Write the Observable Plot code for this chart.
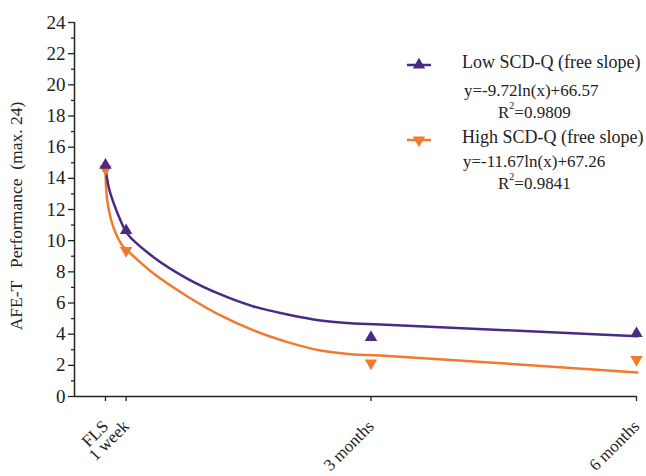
<!DOCTYPE html>
<html>
<head>
<meta charset="utf-8">
<script src="https://cdn.jsdelivr.net/npm/d3@7"></script>
<script src="https://cdn.jsdelivr.net/npm/@observablehq/plot@0.6"></script>
<style>
  html, body { margin: 0; padding: 0; background: #fff; }
  svg text { font-family: "Liberation Serif", "Times New Roman", "DejaVu Serif", serif; }
</style>
</head>
<body>
<div id="chart"></div>
<script>
// Time points (days since FLS) and their labels
const xDays = [0, 7, 90, 180];
const xLabels = ["FLS", "1 week", "3 months", "6 months"];

// Observed means
const lowObs = [14.85, 10.65, 3.79, 4.04];
const highObs = [14.6, 9.37, 2.14, 2.37];

// Fitted curves
const lowCurveX = [0, 1.1, 2.8, 5.1, 7.4, 16.3, 27.7, 39, 50.2, 61.7, 72.9, 84.1, 93.2, 180.3];
const lowCurveY = [14.7, 13.43, 12.39, 11.3, 10.44, 8.94, 7.57, 6.55, 5.78, 5.26, 4.88, 4.69, 4.62, 3.87];
const highCurveX = [0, 0.6, 2.7, 5.7, 7.4, 16.3, 27.8, 39, 50.2, 61.7, 72.9, 84.1, 93.2, 180.3];
const highCurveY = [14.5, 12.58, 10.85, 9.69, 9.37, 7.89, 6.42, 5.2, 4.24, 3.49, 2.95, 2.7, 2.63, 1.54];

const yMajor = d3.range(0, 25, 2);
const yMinor = d3.range(1, 24, 2);

const seriesNames = ["Low SCD-Q (free slope)", "High SCD-Q (free slope)"];
const equations = ["y=-9.72ln(x)+66.57", "y=-11.67ln(x)+67.26"];
const r2Values = ["0.9809", "0.9841"];
const colors = ["#4a2a85", "#f27a2e"];

const lowPts = xDays.map((d, i) => ({x: d, y: lowObs[i]}));
const highPts = xDays.map((d, i) => ({x: d, y: highObs[i]}));
const lowCurve = lowCurveX.map((d, i) => ({x: d, y: lowCurveY[i]}));
const highCurve = highCurveX.map((d, i) => ({x: d, y: highCurveY[i]}));

const svg = Plot.plot({
  width: 646,
  height: 476,
  marginLeft: 74,
  marginRight: 10,
  marginTop: 22,
  marginBottom: 80,
  style: {fontFamily: "'Liberation Serif', 'Times New Roman', serif", fontSize: "18px", color: "#222", background: "#fff"},
  x: {domain: [-10.5, 180]},
  y: {domain: [0, 24]},
  marks: [
    Plot.axisY({ticks: yMajor, tickSize: 6, tickPadding: 3, fontSize: 19, label: null, strokeWidth: 1.3}),
    Plot.axisY({ticks: yMinor, tickSize: 3, tickFormat: () => "", label: null, strokeWidth: 1.3}),
    Plot.axisX({ticks: xDays, tickFormat: (d) => xLabels[xDays.indexOf(d)], tickRotate: -45, tickSize: 5, tickPadding: 22, fontSize: 17, label: null, strokeWidth: 1.3}),
    Plot.ruleX([-10.5], {stroke: "#222", strokeWidth: 1.5}),
    Plot.ruleY([0], {stroke: "#222", strokeWidth: 1.5}),
    Plot.line(highCurve, {x: "x", y: "y", stroke: colors[1], strokeWidth: 2.5, curve: "catmull-rom"}),
    Plot.line(lowCurve, {x: "x", y: "y", stroke: colors[0], strokeWidth: 2.5, curve: "catmull-rom"}),
    Plot.dot(highPts, {x: "x", y: "y", symbol: "triangle", rotate: 180, r: 4.6, fill: colors[1], stroke: "none"}),
    Plot.dot(lowPts, {x: "x", y: "y", symbol: "triangle", r: 4.6, fill: colors[0], stroke: "none"})
  ]
});

const s = d3.select(svg);
// y axis title
s.append("text")
  .attr("transform", "translate(18,216) rotate(-90)")
  .attr("text-anchor", "middle")
  .attr("dominant-baseline", "middle")
  .style("white-space", "pre")
  .attr("font-size", 17.5)
  .attr("fill", "#222")
  .text("AFE-T   Performance  (max. 24)");

// legend
const legendY = [[64, 92, 114], [139, 163, 185]];
const eqX = [464, 463];
seriesNames.forEach((name, i) => {
  const g = s.append("g").attr("text-anchor", "start");
  const [ty, ey, ry] = legendY[i];
  g.append("line").attr("x1", 407).attr("x2", 431).attr("y1", ty + 1).attr("y2", ty + 1)
    .attr("stroke", colors[i]).attr("stroke-width", 2.5);
  g.append("path").attr("d", d3.symbol(d3.symbolTriangle, 4.6 * 4.6 * Math.PI)())
    .attr("transform", `translate(419,${ty + 1}) rotate(${i === 0 ? 0 : 180})`)
    .attr("fill", colors[i]);
  g.append("text").attr("x", 462).attr("y", ty).attr("dominant-baseline", "middle")
    .attr("font-size", 18).attr("fill", "#222").text(name);
  g.append("text").attr("x", eqX[i]).attr("y", ey).attr("dominant-baseline", "middle")
    .attr("font-size", 17).attr("fill", "#222").text(equations[i]);
  const r = g.append("text").attr("x", 498).attr("y", ry).attr("dominant-baseline", "middle")
    .attr("font-size", 17).attr("fill", "#222");
  r.append("tspan").text("R");
  r.append("tspan").attr("font-size", 10).attr("dy", -7).text("2");
  r.append("tspan").attr("dy", 7).text("=" + r2Values[i]);
});

document.getElementById("chart").appendChild(svg);
</script>
</body>
</html>
